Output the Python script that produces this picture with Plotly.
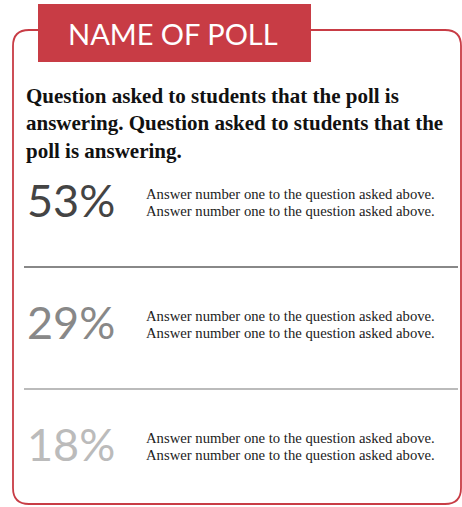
import plotly.graph_objects as go

# Poll content
TITLE = "NAME OF POLL"
QUESTION = ("Question asked to students that the poll is<br>"
            "answering. Question asked to students that the<br>"
            "poll is answering.")
ANSWER_IDS = ["a1", "a2", "a3"]
PERCENTS = [53, 29, 18]
ANSWER_LINE1 = ["Answer number one to the question asked above."] * 3
ANSWER_LINE2 = ["Answer number one to the question asked above."] * 3
PCT_COLORS = ["#444444", "#888888", "#bbbbbb"]

W, H = 462, 507
RED = "#c83c45"
SERIF = "Liberation Serif"
SANS = "Lato"

PCT_X = 27
ANSWER_X = 144


def px(x):
    return x / W


def py(y):
    return 1 - y / H


fig = go.Figure()
fig.add_scatter(
    x=[PCT_X] * len(PERCENTS),
    y=ANSWER_IDS,
    mode="text",
    text=[f"{p}%" for p in PERCENTS],
    textposition="middle right",
    textfont=dict(family=SANS, size=45, color=PCT_COLORS),
    hoverinfo="skip",
)

# answer text, two lines per row
for cat, l1, l2 in zip(ANSWER_IDS, ANSWER_LINE1, ANSWER_LINE2):
    for txt, shift in ((l1, 12), (l2, -5)):
        fig.add_annotation(
            xref="x", yref="y", x=ANSWER_X, y=cat, text=txt, showarrow=False,
            xanchor="left", yanchor="middle", yshift=shift,
            font=dict(family=SERIF, size=14.7, color="#222222"),
        )

# separators between rows, coloured like the row below
for i in range(len(ANSWER_IDS) - 1):
    fig.add_shape(
        type="line", xref="x", yref="y",
        x0=24, x1=458, y0=i + 0.5, y1=i + 0.5,
        line=dict(color=PCT_COLORS[i + 1], width=2),
    )

# rounded frame
l, t, r, b, rad = 13, 30, 461, 504, 16
pts = dict(l=px(l), r=px(r), t=py(t), b=py(b), rx=px(rad), ry=rad / H)
frame = ("M {lr},{t} L {rr},{t} Q {r},{t} {r},{tr} L {r},{br} Q {r},{b} {rr},{b} "
         "L {lr},{b} Q {l},{b} {l},{br} L {l},{tr} Q {l},{t} {lr},{t} Z").format(
    l=pts["l"], r=pts["r"], t=pts["t"], b=pts["b"],
    lr=pts["l"] + pts["rx"], rr=pts["r"] - pts["rx"],
    tr=pts["t"] - pts["ry"], br=pts["b"] + pts["ry"],
)
fig.add_shape(type="path", xref="paper", yref="paper", path=frame,
              line=dict(color=RED, width=1.8), layer="below")
fig.add_shape(type="rect", xref="paper", yref="paper",
              x0=px(38), x1=px(311), y0=py(62), y1=py(4),
              fillcolor=RED, line=dict(width=0))

fig.add_annotation(xref="paper", yref="paper", x=px(173), y=py(33), text=TITLE,
                   showarrow=False, xanchor="center", yanchor="middle",
                   font=dict(family=SANS, size=29, color="white"))
fig.add_annotation(xref="paper", yref="paper", x=px(24), y=py(82), text=QUESTION,
                   showarrow=False, xanchor="left", yanchor="top", align="left",
                   font=dict(family=SERIF, size=21, color="#111111", weight="bold"))

fig.update_layout(
    width=W, height=H,
    margin=dict(l=0, r=0, t=0, b=0),
    showlegend=False,
    plot_bgcolor="white", paper_bgcolor="white",
    xaxis=dict(range=[0, W], visible=False, fixedrange=True),
    yaxis=dict(type="category", categoryorder="array", categoryarray=ANSWER_IDS,
               range=[2.4, -0.4], domain=[py(499), py(157)],
               visible=False, fixedrange=True),
)

fig.write_html("out.html", config={"displayModeBar": False},
               post_script="document.body.style.margin='0';")
